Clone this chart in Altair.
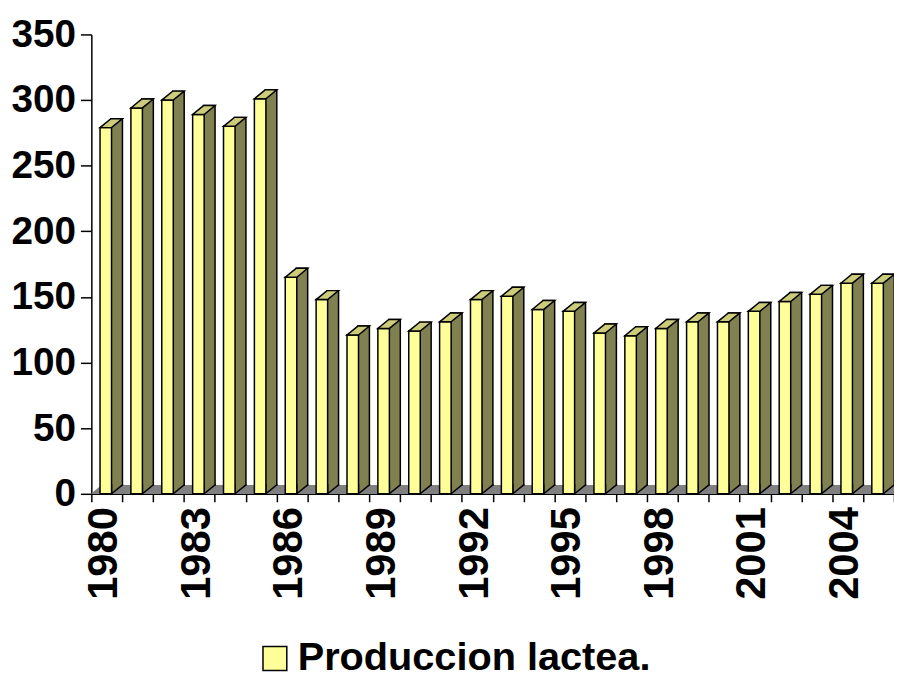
import altair as alt
import pandas as pd

# ---- data ----
years = list(range(1980, 2006))
produccion = [279, 294, 300, 289, 280, 301, 165, 148, 121, 126, 124, 131, 148,
              150.5, 140.5, 139, 122.5, 120.5, 126, 131, 131, 139, 146.5, 152,
              160.5, 160.5]
series_name = "Produccion lactea."
y_ticks = [0, 50, 100, 150, 200, 250, 300, 350]

df = pd.DataFrame({"year": years, "value": produccion, "series": series_name})
df["base"] = 0

# ---- styling ----
FRONT = "#FFFF99"
SIDE = "#808050"
TOP = "#CCCC7A"
FLOOR = "#808080"
FONT = "Arial"

PLOT_W = 809
PLOT_H = 463
STEP = PLOT_W / len(years)
BAR_W = 11.6
DX, DY = 11, 9          # 3-D depth offset in pixels
XO = -1                 # front face offset from band centre
S = 10                  # custom symbol scale (size = (2*S)^2)
SYM_SIZE = (2 * S) ** 2


def p(x, y):
    return f"{x / S:.3f},{y / S:.3f}"


left = XO - BAR_W / 2
right = XO + BAR_W / 2
top_path = (f"M{p(left, 0)}L{p(right, 0)}L{p(right + DX, -DY)}"
            f"L{p(left + DX, -DY)}Z")
tri_path = (f"M{p(right, -DY - 1)}L{p(right, 0)}L{p(right + DX, -DY)}"
            f"L{p(right + DX, -DY - 1)}")
floor_path = (f"M{p(-STEP / 2 - 0.5, 0)}L{p(STEP / 2 + 0.5, 0)}"
              f"L{p(STEP / 2 + 0.5 + DX, -DY)}L{p(-STEP / 2 - 0.5 + DX, -DY)}Z")

x_enc = alt.X(
    "year:O",
    title=None,
    scale=alt.Scale(paddingInner=0, paddingOuter=0),
    axis=alt.Axis(
        labelAngle=270, labelAlign="right", labelBaseline="middle",
        labelFontSize=42, labelFont=FONT, labelFontWeight="bold",
        labelColor="black", labelPadding=5, labelOffset=-3,
        labelOverlap=False,
        labelExpr="(datum.value - 1980) % 3 == 0 ? datum.label : ''",
        tickBand="extent", tickSize=8, tickColor="black", tickWidth=1.5,
        domainColor="black", domainWidth=1.5, grid=False,
    ),
)
y_scale = alt.Scale(domain=[0, 350], nice=False)
y_enc = alt.Y(
    "value:Q",
    title=None,
    scale=y_scale,
    axis=alt.Axis(
        values=y_ticks, labelFontSize=39, labelFont=FONT,
        labelFontWeight="bold", labelColor="black", labelPadding=5,
        tickSize=11, tickColor="black", tickWidth=1.5,
        domainColor="black", domainWidth=1.5, grid=False,
    ),
)
y_base = alt.Y("base:Q", scale=y_scale)

base = alt.Chart(df)

floor = base.mark_point(
    shape=floor_path, size=SYM_SIZE, filled=True, fill=FLOOR,
    strokeWidth=0, opacity=1,
).encode(x=x_enc, y=y_base)

back = base.mark_bar(
    width=BAR_W, xOffset=XO + DX, x2Offset=XO + DX, yOffset=-DY, y2Offset=-DY,
    fill=SIDE, stroke="black", strokeWidth=1.5, strokeJoin="miter",
).encode(x=x_enc, y=y_enc)

tri = base.mark_point(
    shape=tri_path, size=SYM_SIZE, filled=True, fill=SIDE,
    stroke="black", strokeWidth=1.5, opacity=1,
).encode(x=x_enc, y=y_base)

front = base.mark_bar(
    width=BAR_W, xOffset=XO, stroke="black", strokeWidth=1.5,
    strokeJoin="miter",
).encode(
    x=x_enc, y=y_enc,
    color=alt.Color(
        "series:N",
        scale=alt.Scale(domain=[series_name], range=[FRONT]),
        legend=alt.Legend(
            title=None, orient="none", legendX=165, legendY=609,
            symbolType="square", symbolSize=576, symbolStrokeColor="black",
            symbolStrokeWidth=1.5, symbolFillColor=FRONT,
            labelFontSize=40, labelFont=FONT, labelFontWeight="bold",
            labelColor="black", labelOffset=3, labelLimit=0,
        ),
    ),
)

top = base.mark_point(
    shape=top_path, size=SYM_SIZE, filled=True, fill=TOP,
    stroke="black", strokeWidth=1.5, opacity=1, strokeJoin="miter",
).encode(x=x_enc, y=y_enc)

chart = alt.layer(floor, back, tri, front, top).properties(
    width=PLOT_W,
    height=PLOT_H,
    padding={"left": 84, "top": 24, "right": 0, "bottom": 182},
    autosize=alt.AutoSizeParams(type="none"),
).configure_view(strokeWidth=0)

chart.save("out.html", embed_options={"renderer": "svg", "actions": False})
